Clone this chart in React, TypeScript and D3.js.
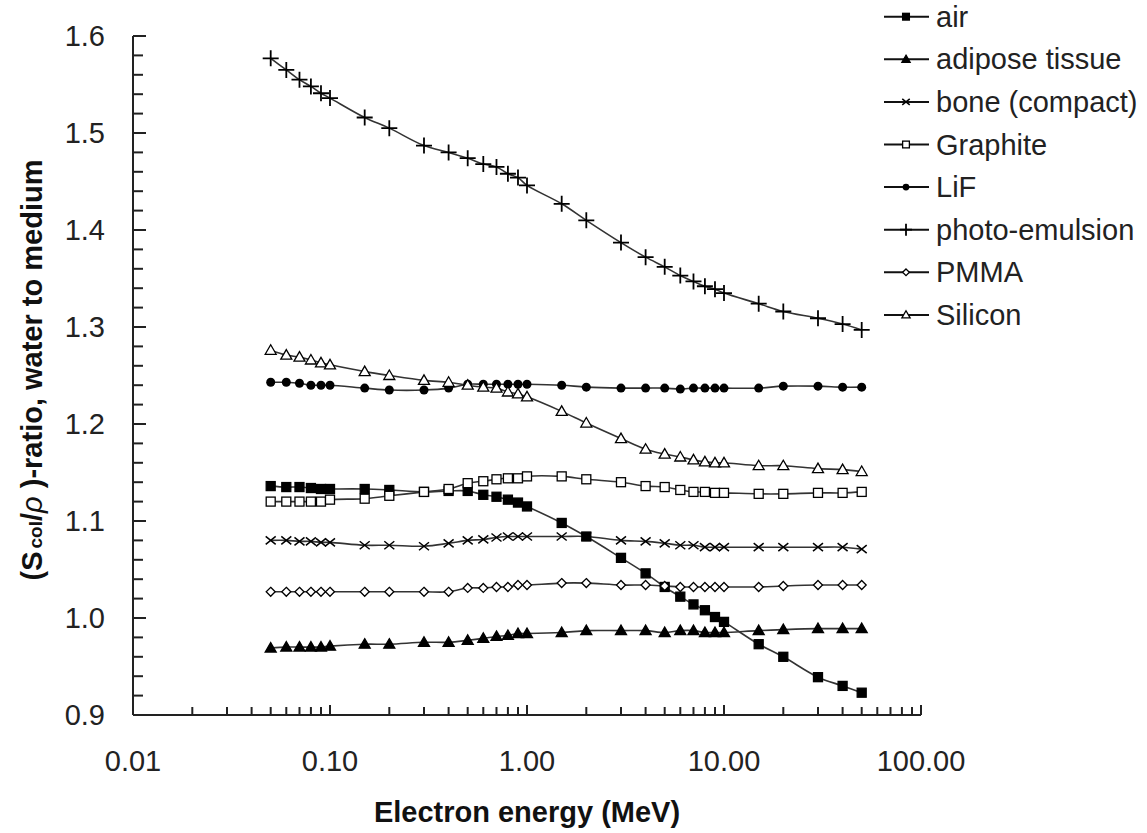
import * as d3 from 'd3';
import { useEffect, useRef } from 'react';

// electron energies (MeV)
const energy = [0.05, 0.06, 0.07, 0.08, 0.09, 0.1, 0.15, 0.2, 0.3, 0.4, 0.5, 0.6, 0.7, 0.8, 0.9, 1, 1.5, 2, 3, 4, 5, 6, 7, 8, 9, 10, 15, 20, 30, 40, 50];

const air = [1.136, 1.135, 1.135, 1.134, 1.133, 1.133, 1.133, 1.132, 1.13, 1.131, 1.131, 1.127, 1.125, 1.122, 1.119, 1.115, 1.098, 1.084, 1.062, 1.046, 1.032, 1.022, 1.014, 1.008, 1.001, 0.996, 0.973, 0.96, 0.939, 0.93, 0.923];
const adipose = [0.969, 0.97, 0.97, 0.97, 0.97, 0.971, 0.973, 0.973, 0.975, 0.975, 0.977, 0.979, 0.981, 0.982, 0.984, 0.984, 0.985, 0.987, 0.987, 0.987, 0.985, 0.987, 0.987, 0.985, 0.985, 0.985, 0.987, 0.988, 0.989, 0.989, 0.989];
const bone = [1.08, 1.08, 1.079, 1.079, 1.078, 1.078, 1.075, 1.075, 1.074, 1.077, 1.08, 1.081, 1.083, 1.084, 1.084, 1.084, 1.084, 1.084, 1.08, 1.079, 1.077, 1.075, 1.075, 1.073, 1.073, 1.073, 1.073, 1.073, 1.073, 1.073, 1.071];
const graphite = [1.12, 1.12, 1.12, 1.12, 1.12, 1.122, 1.123, 1.126, 1.13, 1.133, 1.139, 1.141, 1.143, 1.144, 1.144, 1.146, 1.146, 1.143, 1.14, 1.136, 1.135, 1.132, 1.13, 1.13, 1.129, 1.129, 1.128, 1.128, 1.129, 1.129, 1.13];
const lif = [1.243, 1.243, 1.242, 1.24, 1.24, 1.24, 1.237, 1.235, 1.235, 1.237, 1.241, 1.241, 1.241, 1.241, 1.241, 1.241, 1.24, 1.238, 1.237, 1.237, 1.237, 1.236, 1.237, 1.237, 1.237, 1.237, 1.237, 1.239, 1.239, 1.238, 1.238];
const photoEmulsion = [1.577, 1.565, 1.555, 1.548, 1.541, 1.536, 1.516, 1.505, 1.487, 1.48, 1.474, 1.468, 1.465, 1.458, 1.454, 1.446, 1.427, 1.41, 1.387, 1.372, 1.362, 1.353, 1.347, 1.342, 1.339, 1.335, 1.324, 1.316, 1.309, 1.303, 1.297];
const pmma = [1.027, 1.027, 1.027, 1.027, 1.027, 1.027, 1.027, 1.027, 1.027, 1.027, 1.031, 1.031, 1.032, 1.032, 1.034, 1.034, 1.036, 1.036, 1.034, 1.034, 1.033, 1.032, 1.032, 1.032, 1.032, 1.032, 1.032, 1.033, 1.034, 1.034, 1.034];
const silicon = [1.276, 1.271, 1.269, 1.266, 1.263, 1.261, 1.254, 1.25, 1.245, 1.243, 1.24, 1.238, 1.237, 1.233, 1.231, 1.228, 1.213, 1.201, 1.185, 1.174, 1.169, 1.166, 1.163, 1.161, 1.16, 1.16, 1.157, 1.157, 1.154, 1.153, 1.151];

const seriesNames = ['air', 'adipose tissue', 'bone (compact)', 'Graphite', 'LiF', 'photo-emulsion', 'PMMA', 'Silicon'];
const seriesValues = [air, adipose, bone, graphite, lif, photoEmulsion, pmma, silicon];
const markerKinds = ['squareFill', 'triFill', 'x', 'squareOpen', 'circleFill', 'plus', 'diamondOpen', 'triOpen'];

const xTickLabels = ['0.01', '0.10', '1.00', '10.00', '100.00'];
const yTickLabels = ['0.9', '1.0', '1.1', '1.2', '1.3', '1.4', '1.5', '1.6'];

const FONT = '"Liberation Sans", Arial, sans-serif';

function drawMarker(g, kind, s) {
  // s = scale factor (1 in plot, smaller in legend)
  const k = s;
  if (kind === 'squareFill' || kind === 'squareOpen') {
    g.append('rect')
      .attr('x', -4.5 * k).attr('y', -4.5 * k)
      .attr('width', 9 * k).attr('height', 9 * k)
      .attr('fill', kind === 'squareFill' ? '#000' : '#fff')
      .attr('stroke', '#000').attr('stroke-width', 1.3);
  } else if (kind === 'triFill' || kind === 'triOpen') {
    g.append('path')
      .attr('d', `M0,${-5.5 * k}L${5.5 * k},${4 * k}L${-5.5 * k},${4 * k}Z`)
      .attr('fill', kind === 'triFill' ? '#000' : '#fff')
      .attr('stroke', '#000').attr('stroke-width', 1.3);
  } else if (kind === 'circleFill') {
    g.append('circle').attr('r', 4.5 * k).attr('fill', '#000');
  } else if (kind === 'diamondOpen') {
    g.append('path')
      .attr('d', `M0,${-4.5 * k}L${4.5 * k},0L0,${4.5 * k}L${-4.5 * k},0Z`)
      .attr('fill', '#fff').attr('stroke', '#000').attr('stroke-width', 1.3);
  } else if (kind === 'x') {
    g.append('path')
      .attr('d', `M${-5 * k},${-4 * k}L${5 * k},${4 * k}M${-5 * k},${4 * k}L${5 * k},${-4 * k}`)
      .attr('stroke', '#000').attr('stroke-width', 1.5).attr('fill', 'none');
  } else if (kind === 'plus') {
    g.append('path')
      .attr('d', `M${-8 * k},0H${8 * k}M0,${-8 * k}V${8 * k}`)
      .attr('stroke', '#000').attr('stroke-width', 1.8).attr('fill', 'none');
  }
}

export default function App() {
  const ref = useRef(null);

  useEffect(() => {
    const svg = d3.select(ref.current);
    svg.selectAll('*').remove();

    const x = d3.scaleLog().domain([0.01, 100]).range([133, 921]);
    const y = d3.scaleLinear().domain([0.9, 1.6]).range([715, 36]);

    // axes
    const axis = svg.append('g').attr('stroke', '#222').attr('stroke-width', 2);
    axis.append('line').attr('x1', x(0.01)).attr('x2', x(100)).attr('y1', y(0.9)).attr('y2', y(0.9));
    axis.append('line').attr('x1', x(0.01)).attr('x2', x(0.01)).attr('y1', y(0.9)).attr('y2', y(1.6));

    // x ticks (inside, pointing up)
    const xMinor = [];
    for (let d = 0.01; d < 100; d *= 10) {
      for (let m = 1; m <= 10; m++) xMinor.push(+(d * m).toPrecision(3));
    }
    axis.selectAll('.xt')
      .data(xMinor)
      .join('line')
      .attr('x1', (d) => x(d)).attr('x2', (d) => x(d))
      .attr('y1', y(0.9))
      .attr('y2', (d) => y(0.9) - (Math.abs(Math.log10(d) - Math.round(Math.log10(d))) < 1e-6 ? 10 : 8));

    // y ticks (inside, pointing right)
    const yMinor = d3.range(0, 36).map((i) => 0.9 + i * 0.02);
    axis.selectAll('.yt')
      .data(yMinor)
      .join('line')
      .attr('x1', x(0.01))
      .attr('x2', (d, i) => x(0.01) + (i % 5 === 0 ? 13 : 10))
      .attr('y1', (d) => y(d)).attr('y2', (d) => y(d));

    // tick labels
    svg.append('g')
      .selectAll('text')
      .data(xTickLabels)
      .join('text')
      .attr('x', (d) => x(+d))
      .attr('y', 771)
      .attr('text-anchor', 'middle')
      .attr('font-family', FONT)
      .attr('font-size', 29)
      .attr('fill', '#222')
      .text((d) => d);

    svg.append('g')
      .selectAll('text')
      .data(yTickLabels)
      .join('text')
      .attr('x', 105)
      .attr('y', (d) => y(+d) + 10)
      .attr('text-anchor', 'end')
      .attr('font-family', FONT)
      .attr('font-size', 29)
      .attr('fill', '#222')
      .text((d) => d);

    // axis titles
    svg.append('text')
      .attr('x', 527)
      .attr('y', 822)
      .attr('text-anchor', 'middle')
      .attr('font-family', FONT)
      .attr('font-size', 29)
      .attr('font-weight', 'bold')
      .attr('fill', '#111')
      .text('Electron energy (MeV)');

    const yt = svg.append('text')
      .attr('transform', 'translate(42,370) rotate(-90)')
      .attr('text-anchor', 'middle')
      .attr('font-family', FONT)
      .attr('font-size', 29)
      .attr('font-weight', 'bold')
      .attr('fill', '#111');
    yt.append('tspan').text('(S');
    yt.append('tspan').attr('font-size', 19).attr('dx', 3).text('col');
    yt.append('tspan').text('/');
    yt.append('tspan').attr('font-style', 'italic').attr('font-weight', 'normal').text('ρ');
    yt.append('tspan').text(' )-ratio, water to medium');

    // series lines
    const line = d3.line()
      .x((d) => x(d[0]))
      .y((d) => y(d[1]))
      .curve(d3.curveCatmullRom.alpha(0.5));

    seriesValues.forEach((vals, si) => {
      const pts = energy.map((e, i) => [e, vals[i]]);
      svg.append('path')
        .attr('d', line(pts))
        .attr('fill', 'none')
        .attr('stroke', '#333')
        .attr('stroke-width', 1.6);
    });

    seriesValues.forEach((vals, si) => {
      const g = svg.append('g');
      energy.forEach((e, i) => {
        const m = g.append('g').attr('transform', `translate(${x(e)},${y(vals[i])})`);
        drawMarker(m, markerKinds[si], 1);
      });
    });

    // legend
    const legend = svg.append('g');
    seriesNames.forEach((name, i) => {
      const ly = 16.7 + i * 42.6;
      const row = legend.append('g').attr('transform', `translate(0,${ly})`);
      row.append('line').attr('x1', 884).attr('x2', 929).attr('y1', 0).attr('y2', 0)
        .attr('stroke', '#111').attr('stroke-width', 2);
      const m = row.append('g').attr('transform', 'translate(906,0)');
      drawMarker(m, markerKinds[i], 0.75);
      row.append('text')
        .attr('x', 936)
        .attr('y', 10)
        .attr('font-family', FONT)
        .attr('font-size', 29)
        .attr('fill', '#222')
        .text(name);
    });
  }, []);

  return (
    <svg
      ref={ref}
      width={1147}
      height={833}
      style={{ position: 'absolute', left: 0, top: 0, background: '#fff' }}
    />
  );
}
